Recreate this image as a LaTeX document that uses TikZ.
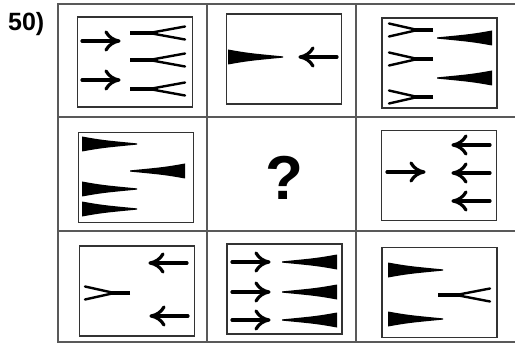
\documentclass[tikz,border=0pt]{standalone}
\usepackage{fontspec}
\setmainfont{Liberation Sans}

\tikzset{
  pics/arrow/.style={code={
    \draw[line width=3.2pt, line cap=round] (0,0) -- (35,0);
    \draw[line width=3.2pt, line cap=round, line join=round]
      (24,-9) .. controls (27,-4) and (31,-1) .. (37,0)
              .. controls (31,1) and (27,4) .. (24,9);
  }},
  pics/fork/.style={code={
    \draw[line width=3.2pt] (0,0) -- (0.5*#1,0);
    \draw[line width=2.4pt, line cap=round] (0.35*#1,0) .. controls (0.75*#1,-4) .. (#1,-6.5);
    \draw[line width=2.4pt, line cap=round] (0.35*#1,0) .. controls (0.75*#1,4) .. (#1,6.5);
  }},
  pics/spike/.style={code={
    \fill (0,-7.5) -- (0,7.5) .. controls (20,4) .. (55,0.6) -- (55,-0.6) .. controls (20,-4) .. (0,-7.5) -- cycle;
  }},
}

\begin{document}
\begin{tikzpicture}[x=1pt, y=-1pt,
  grid/.style={draw=black!65, line width=1.4pt},
  panel/.style={draw=black!80, line width=1.7pt, minimum width=115pt, minimum height=90pt, inner sep=0pt},
  label/.style={font=\fontsize{25}{25}\selectfont\bfseries, inner sep=0pt},
  query/.style={font=\fontsize{62}{62}\selectfont\bfseries, inner sep=0pt},
]
  \useasboundingbox (0,0) rectangle (515,345);

  % outer grid
  \draw[grid] (58,4) rectangle (518,342);
  \draw[grid] (207,4) -- (207,342) (356,4) -- (356,342);
  \draw[grid] (58,117) -- (518,117) (58,231) -- (518,231);

  \node[label, anchor=base west] (num) at (8,31) {50)};

  % inner panels
  \node[panel] (c1) at (135,62) {};
  \node[panel] (c2) at (284,59) {};
  \node[panel] (c3) at (439.5,63) {};
  \node[panel] (c4) at (136,177.5) {};
  \node[query, anchor=base] (q) at (284,200) {?};
  \node[panel] (c6) at (439,175.5) {};
  \node[panel] (c7) at (137,291) {};
  \node[panel] (c8) at (284.5,289) {};
  \node[panel] (c9) at (439.5,292.5) {};

  % row 1
  \foreach \y in {41,80}
    \pic at (82,\y) {arrow};
  \foreach \y in {33,60,89}
    \pic at (130,\y) {fork=55};

  \pic at (228,57) {spike};
  \pic[xscale=-1] at (337,57) {arrow};

  \foreach \y in {30,59,97}
    \pic[xscale=-1] at (433,\y) {fork=44};
  \foreach \y in {38,78}
    \pic[xscale=-1] at (492,\y) {spike};

  % row 2
  \foreach \y in {144,189,209}
    \pic at (82,\y) {spike};
  \pic[xscale=-1] at (185,171) {spike};

  \pic at (387,172) {arrow};
  \foreach \y in {145,173,201}
    \pic[xscale=-1] at (490,\y) {arrow};

  % row 3
  \pic[xscale=-1] at (187,263) {arrow};
  \pic[xscale=-1] at (188,316) {arrow};
  \pic[xscale=-1] at (130,293) {fork=45};

  \foreach \y in {262,292,320} {
    \pic at (232,\y) {arrow};
    \pic[xscale=-1] at (337,\y) {spike};
  }

  \foreach \y in {270,319}
    \pic at (388,\y) {spike};
  \pic at (438,295) {fork=52};
\end{tikzpicture}
\end{document}
